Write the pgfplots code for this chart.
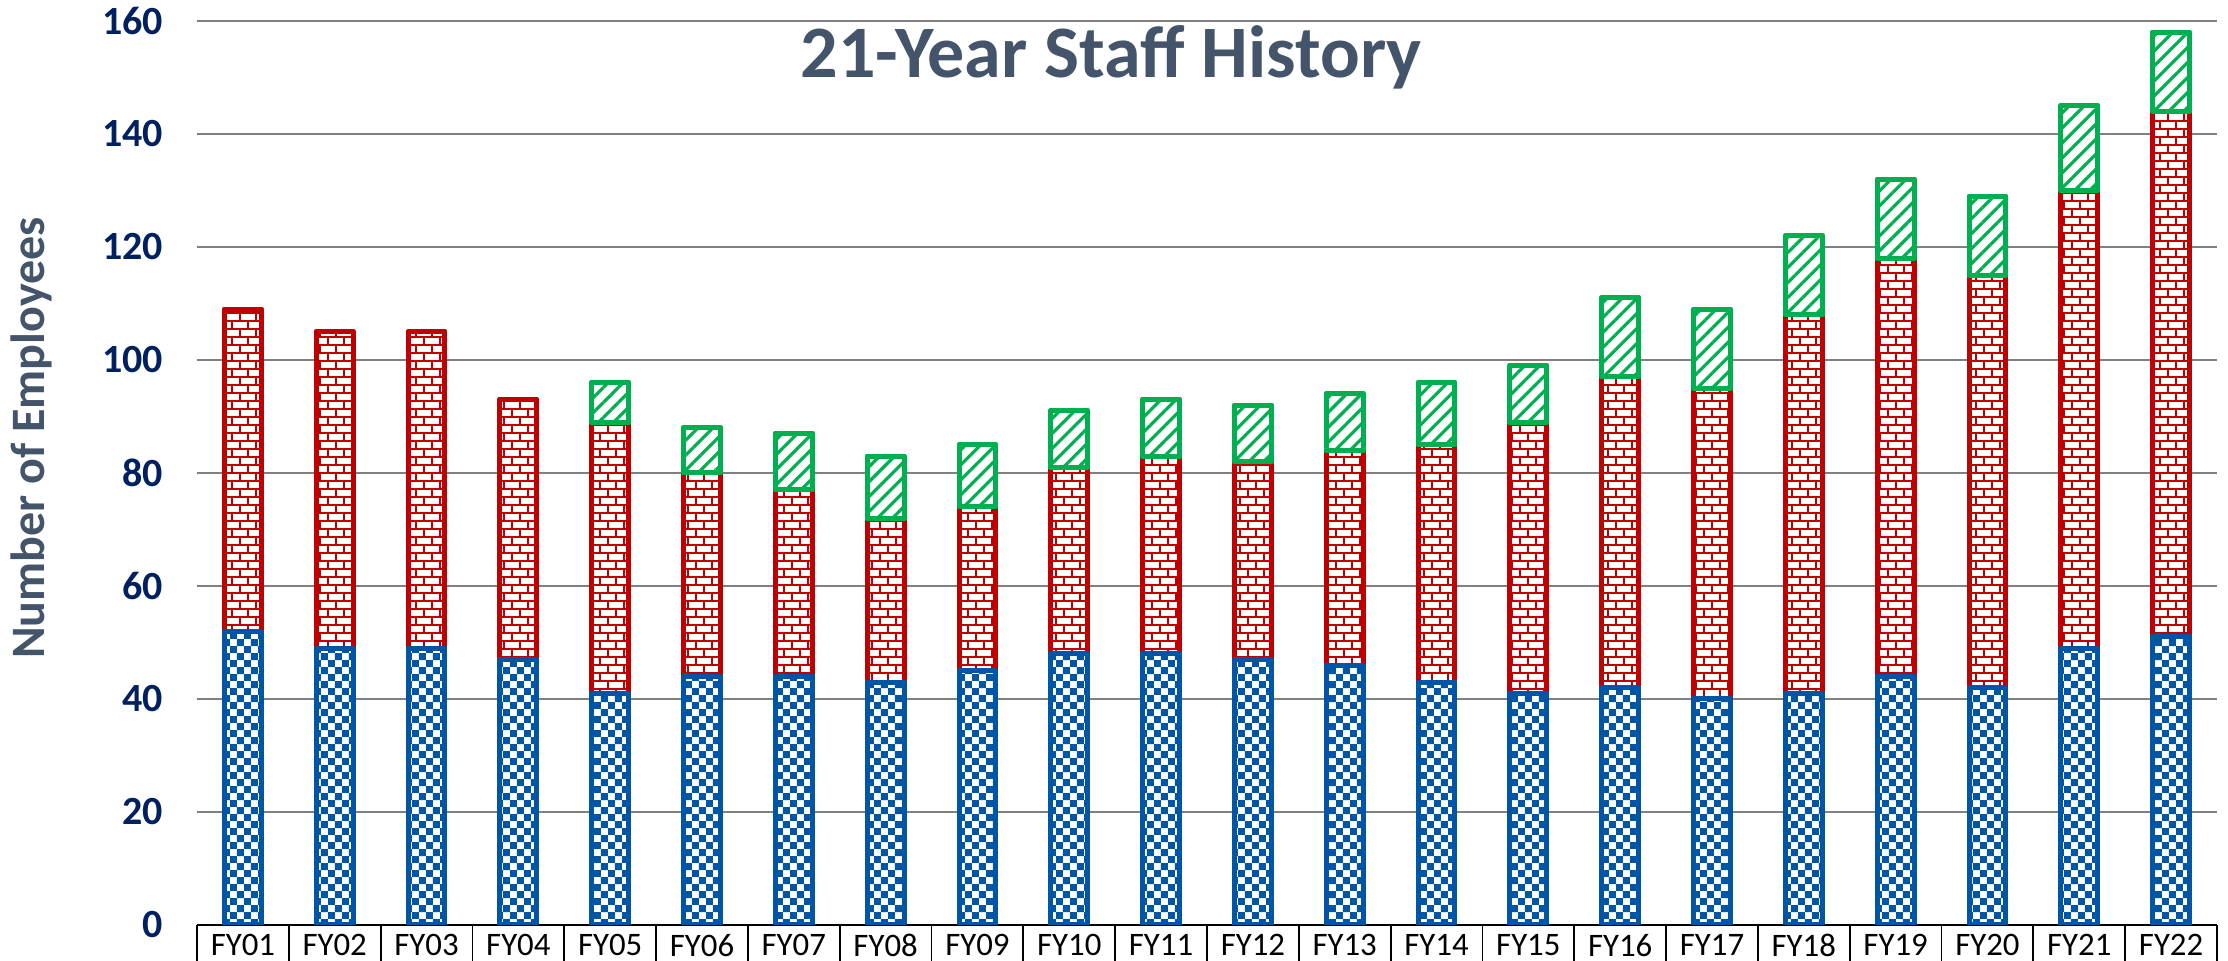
\documentclass[border=0pt]{standalone}
\usepackage{fontspec}
\setmainfont{Carlito}
\usepackage{pgfplots}
\usepackage{pgfplotstable}
\pgfplotsset{compat=1.18}
\usetikzlibrary{patterns,patterns.meta}

\definecolor{barblue}{RGB}{0,86,165}
\definecolor{barred}{RGB}{192,0,0}
\definecolor{bargreen}{RGB}{0,176,80}
\definecolor{navy}{RGB}{0,32,96}
\definecolor{slate}{RGB}{68,84,106}
\definecolor{gridgray}{RGB}{128,128,128}

\pgfdeclarepatternformonly{mycheck}{\pgfpointorigin}{\pgfpoint{3.6pt}{3.6pt}}{\pgfpoint{3.6pt}{3.6pt}}{%
  \pgfpathrectangle{\pgfpointorigin}{\pgfpoint{1.8pt}{1.8pt}}%
  \pgfpathrectangle{\pgfpoint{1.8pt}{1.8pt}}{\pgfpoint{1.8pt}{1.8pt}}%
  \pgfusepath{fill}%
}
\pgfdeclarepatternformonly{mybricks}{\pgfpoint{-0.4pt}{-0.4pt}}{\pgfpoint{8.4pt}{4.4pt}}{\pgfpoint{8pt}{4pt}}{%
  \pgfsetlinewidth{0.5pt}%
  \pgfpathmoveto{\pgfpoint{-0.4pt}{0pt}}\pgfpathlineto{\pgfpoint{8.4pt}{0pt}}%
  \pgfpathmoveto{\pgfpoint{-0.4pt}{2pt}}\pgfpathlineto{\pgfpoint{8.4pt}{2pt}}%
  \pgfpathmoveto{\pgfpoint{0pt}{0pt}}\pgfpathlineto{\pgfpoint{0pt}{2pt}}%
  \pgfpathmoveto{\pgfpoint{4pt}{0pt}}\pgfpathlineto{\pgfpoint{4pt}{2pt}}%
  \pgfpathmoveto{\pgfpoint{2pt}{2pt}}\pgfpathlineto{\pgfpoint{2pt}{4pt}}%
  \pgfpathmoveto{\pgfpoint{6pt}{2pt}}\pgfpathlineto{\pgfpoint{6pt}{4pt}}%
  \pgfusepath{stroke}%
}

\pgfplotstableread{
x blue red green
0 52 57 0
1 49 56 0
2 49 56 0
3 47 46 0
4 41 48 7
5 44 36 8
6 44 33 10
7 43 29 11
8 45 29 11
9 48 33 10
10 48 35 10
11 47 35 10
12 46 38 10
13 43 42 11
14 41 48 10
15 42 55 14
16 40 55 14
17 41 67 14
18 44 74 14
19 42 73 14
20 49 81 15
21 51 93 14
}\datatable

\pgfplotsset{
  commongeom/.style={
    at={(0,0)}, anchor=south west,
    scale only axis, width=505pt, height=226pt,
    xmin=-0.5, xmax=21.5, ymin=0, ymax=160,
    enlargelimits=false,
    ybar stacked, bar width=9.2pt,
  },
  bluebar/.style={draw=barblue, line width=1.25pt, line join=round, fill=white, postaction={pattern=mycheck, pattern color=barblue}},
  redbar/.style={draw=barred, line width=1.25pt, line join=round, fill=white, postaction={pattern=mybricks, pattern color=barred}},
  greenbar/.style={draw=bargreen, line width=1.25pt, line join=round, fill=white, postaction={pattern={Lines[angle=45,distance=2.65pt,line width=0.8pt]}, pattern color=bargreen}},
}

\begin{document}
\begin{tikzpicture}
\begin{axis}[
  commongeom,
  xtick={0,1,...,21},
  xticklabels={FY01,FY02,FY03,FY04,FY05,FY06,FY07,FY08,FY09,FY10,FY11,FY12,FY13,FY14,FY15,FY16,FY17,FY18,FY19,FY20,FY21,FY22},
  ytick={0,20,...,160},
  major tick length=0pt,
  axis x line*=bottom, axis y line*=left,
  y axis line style={draw=none},
  x axis line style={black, line width=0.45pt},
  ymajorgrids, grid style={gridgray, line width=0.55pt},
  /pgf/number format/assume math mode=true,
  yticklabel style={font=\bfseries\fontsize{10}{11}\selectfont, text=navy},
  yticklabel shift=5pt,
  xticklabel style={font=\fontsize{8.2}{9.6}\selectfont, text=black, yshift=1.2pt},
  extra x ticks={-0.5,0.5,...,21.5},
  extra x tick labels={},
  extra x tick style={major tick length=14pt, tick align=outside, tick style={black, line width=0.45pt}, grid=none},
  title={21-Year Staff History},
  title style={at={(axis description cs:0.4525,0.9336)}, anchor=center, font=\bfseries\fontsize{18.5}{22}\selectfont, text=slate},
  ylabel={Number of Employees},
  ylabel style={at={(axis description cs:-0.0822,0.5387)}, anchor=center, font=\bfseries\fontsize{12}{14}\selectfont, text=slate},
]
\addplot[bluebar] table[x=x,y=blue]{\datatable};
\addplot[redbar] table[x=x,y=red]{\datatable};
\end{axis}
\begin{axis}[commongeom, hide axis]
\addplot[draw=none, fill=none, skip coords between index={0}{4}] table[x=x,y=blue]{\datatable};
\addplot[draw=none, fill=none, skip coords between index={0}{4}] table[x=x,y=red]{\datatable};
\addplot[greenbar, skip coords between index={0}{4}] table[x=x,y=green]{\datatable};
\end{axis}
\pgfresetboundingbox
\path[use as bounding box] (-49.25pt,-9pt) rectangle (507.75pt,231.25pt);
\end{tikzpicture}
\end{document}
